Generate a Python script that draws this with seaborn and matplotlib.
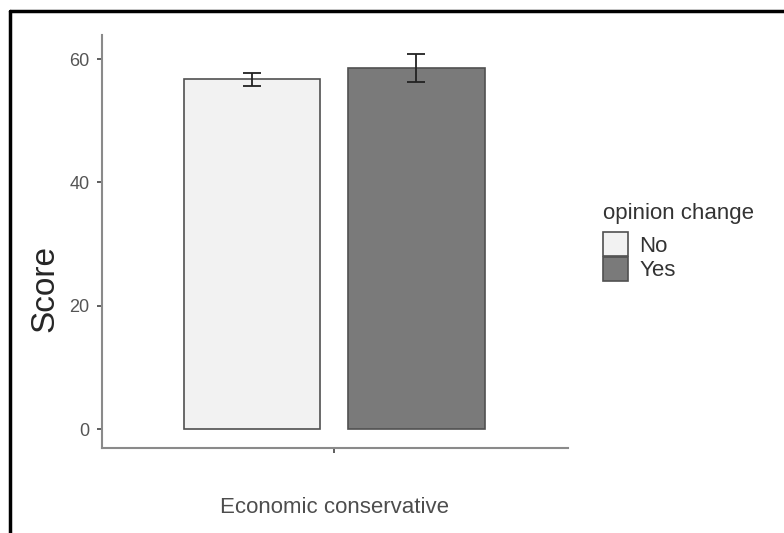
import numpy as np
import pandas as pd
import matplotlib
matplotlib.use("Agg")
import matplotlib.pyplot as plt
from matplotlib.lines import Line2D
import seaborn as sns

# ---- data ----
categories = ["Economic conservative"]
groups = ["No", "Yes"]
means = [56.7, 58.5]
errors = [1.0, 2.3]
legend_title = "opinion change"
y_label = "Score"
y_ticks = [0, 20, 40, 60]

df = pd.DataFrame({
    "category": [categories[0]] * len(groups),
    legend_title: groups,
    y_label: means,
})

sns.set_theme(style="white")
plt.rcParams['font.family'] = ['Liberation Sans', 'DejaVu Sans']

fig = plt.figure(figsize=(7.84, 5.33), dpi=100)
ax = fig.add_axes([101.5 / 784, 1 - 448 / 533, (568 - 101.5) / 784, (448 - 35) / 533])

sns.barplot(data=df, x="category", y=y_label, hue=legend_title, hue_order=groups,
            palette=["#f2f2f2", "#7a7a7a"], edgecolor="#505050", linewidth=1.2,
            width=0.8, gap=0.17, errorbar=None, ax=ax)

# error bars at bar centres
bars = sorted([p for p in ax.patches if p.get_height() > 0], key=lambda p: p.get_x())
centers = [p.get_x() + p.get_width() / 2 for p in bars]
ax.errorbar(centers, means, yerr=errors, fmt="none", ecolor="#222222",
            elinewidth=1.3, capsize=6.5, capthick=1.3, zorder=5)

ax.set_xlim(-0.566, 0.569)
ax.set_ylim(-3.08, 63.9)
ax.set_yticks(y_ticks)
ax.set_yticklabels([str(t) for t in y_ticks])
ax.set_xticks([0])
ax.set_xticklabels(categories)

for s in ["top", "right"]:
    ax.spines[s].set_visible(False)
for s in ["left", "bottom"]:
    ax.spines[s].set_color("#8a8a8a")
    ax.spines[s].set_linewidth(1.5)

ax.tick_params(axis="y", length=3.5, width=1.1, color="#333333", labelsize=13,
               labelcolor="#555555", pad=5, left=True)
ax.tick_params(axis="x", length=3.5, width=1.1, color="#333333", labelsize=16,
               labelcolor="#4d4d4d", pad=32, bottom=True)

ax.set_xlabel("")
ax.set_ylabel(y_label, fontsize=24, color="#262626")
ax.yaxis.label.set_va("center")
ax.yaxis.set_label_coords((45 - 101.5) / 466.5, (448 - 289) / 413)

handles, labels = ax.get_legend_handles_labels()
if ax.get_legend() is not None:
    ax.get_legend().remove()
leg = fig.legend(handles, labels, title=legend_title, loc="upper left",
                 bbox_to_anchor=(603 / 784, 1 - 203 / 533), bbox_transform=fig.transFigure,
                 frameon=False, fontsize=16, title_fontsize=16, handlelength=1.13,
                 handleheight=1.28, handletextpad=0.5, labelspacing=0.0, borderpad=0,
                 borderaxespad=0, alignment="left")
leg._legend_box.sep = 6
for t in leg.get_texts():
    t.set_color("#333333")
leg.get_title().set_color("#333333")

# screenshot border lines (top and left)
fig.add_artist(Line2D([10 / 784, 1], [1 - 11 / 533, 1 - 11 / 533], transform=fig.transFigure,
                      color="black", linewidth=2.5))
fig.add_artist(Line2D([10 / 784, 10 / 784], [0, 1 - 11 / 533], transform=fig.transFigure,
                      color="black", linewidth=2.5))

fig.savefig("out.png", dpi=100, facecolor="white")
